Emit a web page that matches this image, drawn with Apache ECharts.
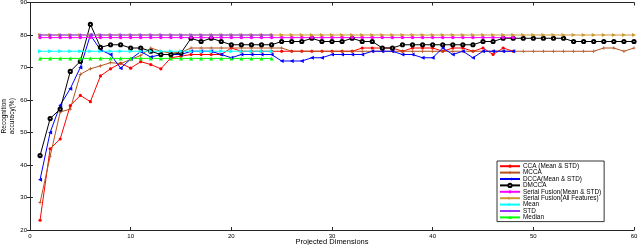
<!DOCTYPE html>
<html>
<head>
<meta charset="utf-8">
<script src="https://cdn.jsdelivr.net/npm/echarts@6/dist/echarts.min.js"></script>
<style>
html,body{margin:0;padding:0;background:#fff;}
#chart{width:640px;height:245px;}
</style>
</head>
<body>
<div id="chart"></div>
<script>
// X tick labels
const xTicks = [0, 10, 20, 30, 40, 50, 60];
const yTicks = [20, 30, 40, 50, 60, 70, 80, 90];

// Series values, index 0 = projected dimension 1
const ccaVals = [23,45,48,58.3,61.4,59.5,67.4,69.6,71.3,69.8,
  71.8,70.9,69.6,73,73.5,74,74,74,74,76,
  75,75,75,75,75,75,75,75,75,75,
  75,75,76,76,76,76,75,76,76,76,
  75,76,76,75,76,74,76,75];
const mccaVals = [28.4,42.7,56.3,57.2,67.9,69.6,70.5,71.5,71.2,72.5,
  73.7,76,75,74.4,74.7,76,76,76,76,76,
  76,76,76,76,76,75,75,75,75,75,
  75,75,75,75,75,75,75,75,75,75,
  75,75,75,75,75,75,75,75,75,75,
  75,75,75,75,75,75,76,76,75,76];
const dccaVals = [35.5,50,58.4,63.5,70,80,75.4,74,69.8,72.6,
  74.9,73.2,74,74,74,75,75,75,74,73,
  74,74,74,74,72,72,72,73,73,74,
  74,74,74,75,75,75,74,74,73,73,
  76,74,75,73,75,75,75,75];
const dmccaVals = [42.9,54.3,57.2,68.8,71.9,83.3,76.2,77,77,76,
  76,75,74,74,74.5,79,78,79,78,77,
  77,77,77,77,78,78,78,79,78,78,
  78,79,78,78,76,76,77,77,77,77,
  77,77,77,77,78,78,79,79,79,79,
  79,79,79,78,78,78,78,78,78,78];
const serialMSVals = [79.2,79.2,79.2,79.2,79.2,79.2,79.2,79.2,79.2,79.2,
  79.2,79.2,79.2,79.2,79.2,79.2,79.2,79.2,79.2,79.2,
  79.2,79.2,79.2,79.2,79.2,79.2,79.2,79.2,79.2,79.2,
  79.2,79.2,79.2,79.2,79.2,79.2,79.2,79.2,79.2,79.2,
  79.2,79.2,79.2,79.2,79.2,79.2,79.2,79.2];
const serialAllVals = [80,80,80,80,80,80,80,80,80,80,
  80,80,80,80,80,80,80,80,80,80,
  80,80,80,80,80,80,80,80,80,80,
  80,80,80,80,80,80,80,80,80,80,
  80,80,80,80,80,80,80,80,80,80,
  80,80,80,80,80,80,80,80,80,80];
const meanVals = [75,75,75,75,75,75,75,75,75,75,75,75,75,75,75,75,75,75,75,75,75,75,75,75];
const stdVals = [80,80,80,80,80,80,80,80,80,80,80,80,80,80,80,80,80,80,80,80,80,80,80,80];
const medianVals = [72.8,72.8,72.8,72.8,72.8,72.8,72.8,72.8,72.8,72.8,72.8,72.8,72.8,72.8,72.8,72.8,72.8,72.8,72.8,72.8,72.8,72.8,72.8,72.8];

const seriesNames = ['CCA (Mean & STD)','MCCA','DCCA(Mean & STD)','DMCCA','Serial Fusion(Mean & STD)','Serial Fusion(All Features)','Mean','STD','Median'];

function pairs(vals){ return vals.map((v,i)=>[i+1, v]); }

const FONT = 'Liberation Sans';
const plusPath = 'path://M4,0H6V4H10V6H6V10H4V6H0V4H4Z';
const starPath = 'path://M5,0L6.2,3.6L10,3.6L6.9,5.8L8.1,9.5L5,7.2L1.9,9.5L3.1,5.8L0,3.6L3.8,3.6Z';

function mk(name, vals, color, symbol, size, extra){
  return Object.assign({
    name: name, type: 'line', data: pairs(vals),
    xAxisIndex: 0, yAxisIndex: 0,
    symbol: symbol, symbolSize: size, showSymbol: true,
    lineStyle: {color: color, width: 1},
    itemStyle: {color: color, borderColor: color, borderWidth: 0},
    animation: false, z: 2
  }, extra || {});
}

const series = [
  mk(seriesNames[0], ccaVals, '#ff0000', 'circle', 3.2),
  mk(seriesNames[1], mccaVals, '#b3541e', plusPath, 3.5),
  mk(seriesNames[2], dccaVals, '#0000ff', 'triangle', 4, {symbolRotate: 90}),
  mk(seriesNames[3], dmccaVals, '#000000', 'emptyCircle', 3.2, {itemStyle:{color:'#000', borderColor:'#000', borderWidth:0.8}}),
  mk(seriesNames[4], serialMSVals, '#ff00ff', 'circle', 3.5),
  mk(seriesNames[5], serialAllVals, '#cc9933', 'triangle', 4, {symbolRotate: -90}),
  mk(seriesNames[6], meanVals, '#00ffff', 'triangle', 4, {symbolRotate: -90}),
  mk(seriesNames[7], stdVals, '#9933ff', starPath, 4.5),
  mk(seriesNames[8], medianVals, '#00ff00', 'triangle', 4)
];

const axisLineStyle = {show: true, lineStyle: {color: '#262626', width: 1}};
const chart = echarts.init(document.getElementById('chart'), null, {renderer: 'canvas'});
chart.setOption({
  backgroundColor: '#fff',
  animation: false,
  grid: {left: 30, right: 6, top: 2.5, bottom: 15, containLabel: false, outerBoundsMode: 'none'},
  xAxis: [{
    type: 'value', min: xTicks[0], max: xTicks[xTicks.length-1], interval: 10, position: 'bottom',
    axisLine: axisLineStyle,
    axisTick: {show: true, inside: true, length: 3, lineStyle: {color: '#262626'}},
    axisLabel: {color: '#000', fontSize: 6, fontFamily: FONT, margin: 3},
    splitLine: {show: false},
    name: 'Projected Dimensions', nameLocation: 'middle', nameGap: 8, nameMoveOverlap: false,
    nameTextStyle: {color: '#000', fontSize: 7.5, fontFamily: FONT}
  },{
    type: 'value', min: xTicks[0], max: xTicks[xTicks.length-1], interval: 10, position: 'top',
    axisLine: axisLineStyle,
    axisTick: {show: true, inside: true, length: 3, lineStyle: {color: '#262626'}},
    axisLabel: {show: false}, splitLine: {show: false}
  }],
  yAxis: [{
    type: 'value', min: yTicks[0], max: yTicks[yTicks.length-1], interval: 10, position: 'left',
    axisLine: axisLineStyle,
    axisTick: {show: true, inside: true, length: 3, lineStyle: {color: '#262626'}},
    axisLabel: {color: '#000', fontSize: 6, fontFamily: FONT, margin: 3},
    splitLine: {show: false},
    name: 'Recognition\naccuracy(%)', nameLocation: 'middle', nameGap: 14.5, nameRotate: 90, nameMoveOverlap: false,
    nameTextStyle: {color: '#000', fontSize: 6.5, fontFamily: FONT, lineHeight: 7.5}
  },{
    type: 'value', min: yTicks[0], max: yTicks[yTicks.length-1], interval: 10, position: 'right',
    axisLine: axisLineStyle,
    axisTick: {show: true, inside: true, length: 3, lineStyle: {color: '#262626'}},
    axisLabel: {show: false}, splitLine: {show: false}
  }],
  legend: {
    orient: 'vertical', left: 497, top: 161,
    data: seriesNames,
    itemWidth: 20, itemHeight: 4, itemGap: 0,
    padding: [2, 3, 1, 2],
    borderColor: '#000', borderWidth: 0.8, backgroundColor: '#fff',
    textStyle: {color: '#000', fontSize: 6.4, fontFamily: FONT, lineHeight: 6.4, padding: [0,0,0,-2]},
    selectedMode: false
  },
  series: series
});
</script>
</body>
</html>
